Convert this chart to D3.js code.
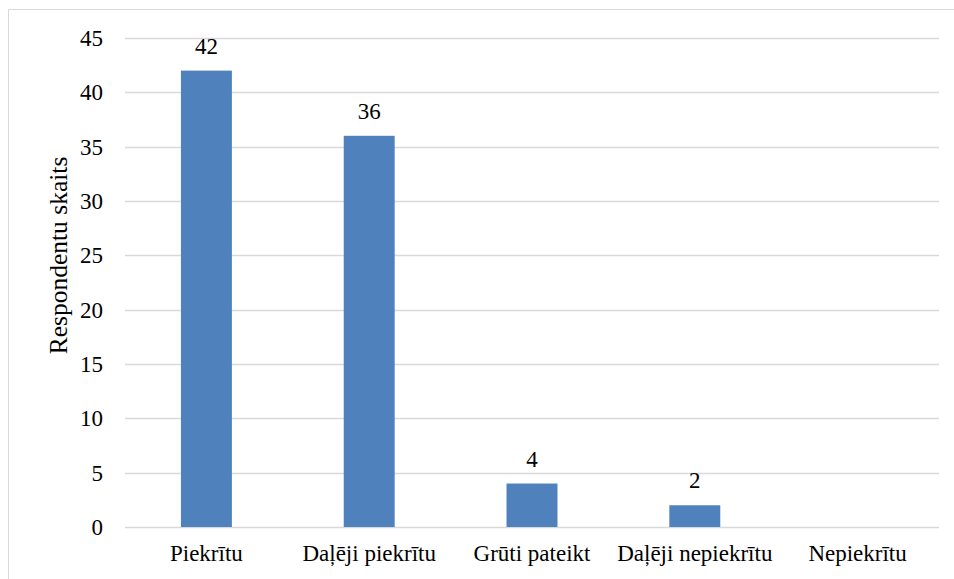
<!DOCTYPE html>
<html>
<head>
<meta charset="utf-8">
<script src="https://cdn.jsdelivr.net/npm/d3@7"></script>
</head>
<body style="margin:0;background:#fff">
<svg id="chart" width="954" height="579" font-family="Liberation Serif, Times New Roman, serif" style="font-family:'Liberation Serif','Times New Roman',serif"></svg>
<script>
// data
const categories = ["Piekrītu", "Daļēji piekrītu", "Grūti pateikt", "Daļēji nepiekrītu", "Nepiekrītu"];
const counts = [42, 36, 4, 2, 0];
const yTicks = [0, 5, 10, 15, 20, 25, 30, 35, 40, 45];

const FONT = "'Liberation Serif', 'Times New Roman', serif";

const svg = d3.select("#chart");
const margin = {top: 38, left: 125, right: 15, bottom: 52};
const width = 954, height = 579;
const innerWidth = width - margin.left - margin.right;
const innerHeight = height - margin.top - margin.bottom;

// outer frame (right and bottom edges fall outside the picture)
svg.append("path")
  .attr("d", `M954,9.5H8.5V579`)
  .attr("fill", "none").attr("stroke", "#d9d9d9");

const g = svg.append("g").attr("transform", `translate(${margin.left},${margin.top})`);

const xScale = d3.scaleBand().domain(categories).range([0, innerWidth]).paddingInner(0.687).paddingOuter(0.3435);
const xCenter = d => xScale(d) + xScale.bandwidth() / 2;
const yScale = d3.scaleLinear().domain([0, 45]).range([innerHeight, 0]);

// gridlines
g.selectAll(".grid")
  .data(yTicks)
  .enter()
  .append("line")
  .attr("x1", 0).attr("x2", innerWidth)
  .attr("y1", d => Math.round(yScale(d)) + 0.5)
  .attr("y2", d => Math.round(yScale(d)) + 0.5)
  .attr("stroke", "#d9d9d9")
  .attr("stroke-width", 1.3);

// y tick labels
g.selectAll(".ytick")
  .data(yTicks)
  .enter()
  .append("text")
  .attr("x", -22)
  .attr("y", d => yScale(d) + 8)
  .attr("text-anchor", "end")
  .style("font-family", FONT)
  .attr("font-size", 23)
  .text(d => d);

// bars
g.selectAll(".bar")
  .data(counts)
  .enter()
  .append("rect")
  .attr("x", (d, i) => xScale(categories[i]))
  .attr("y", d => yScale(d))
  .attr("width", xScale.bandwidth())
  .attr("height", d => innerHeight - yScale(d))
  .attr("fill", "#4f81bd");

// value labels (zero bar has none)
g.selectAll(".val")
  .data(counts.filter(d => d > 0))
  .enter()
  .append("text")
  .attr("x", (d, i) => xCenter(categories[i]))
  .attr("y", d => yScale(d) - 17)
  .attr("text-anchor", "middle")
  .style("font-family", FONT)
  .attr("font-size", 23)
  .text(d => d);

// x category labels
g.selectAll(".xtick")
  .data(categories)
  .enter()
  .append("text")
  .attr("x", d => xCenter(d))
  .attr("y", innerHeight + 34)
  .attr("text-anchor", "middle")
  .style("font-family", FONT)
  .attr("font-size", 23)
  .text(d => d);

// y axis title
g.append("text")
  .attr("transform", "rotate(-90)")
  .attr("x", -(yScale(0) + yScale(45)) / 2 + 27)
  .attr("y", -58)
  .attr("text-anchor", "middle")
  .style("font-family", FONT)
  .attr("font-size", 25.5)
  .text("Respondentu skaits");
</script>
</body>
</html>
